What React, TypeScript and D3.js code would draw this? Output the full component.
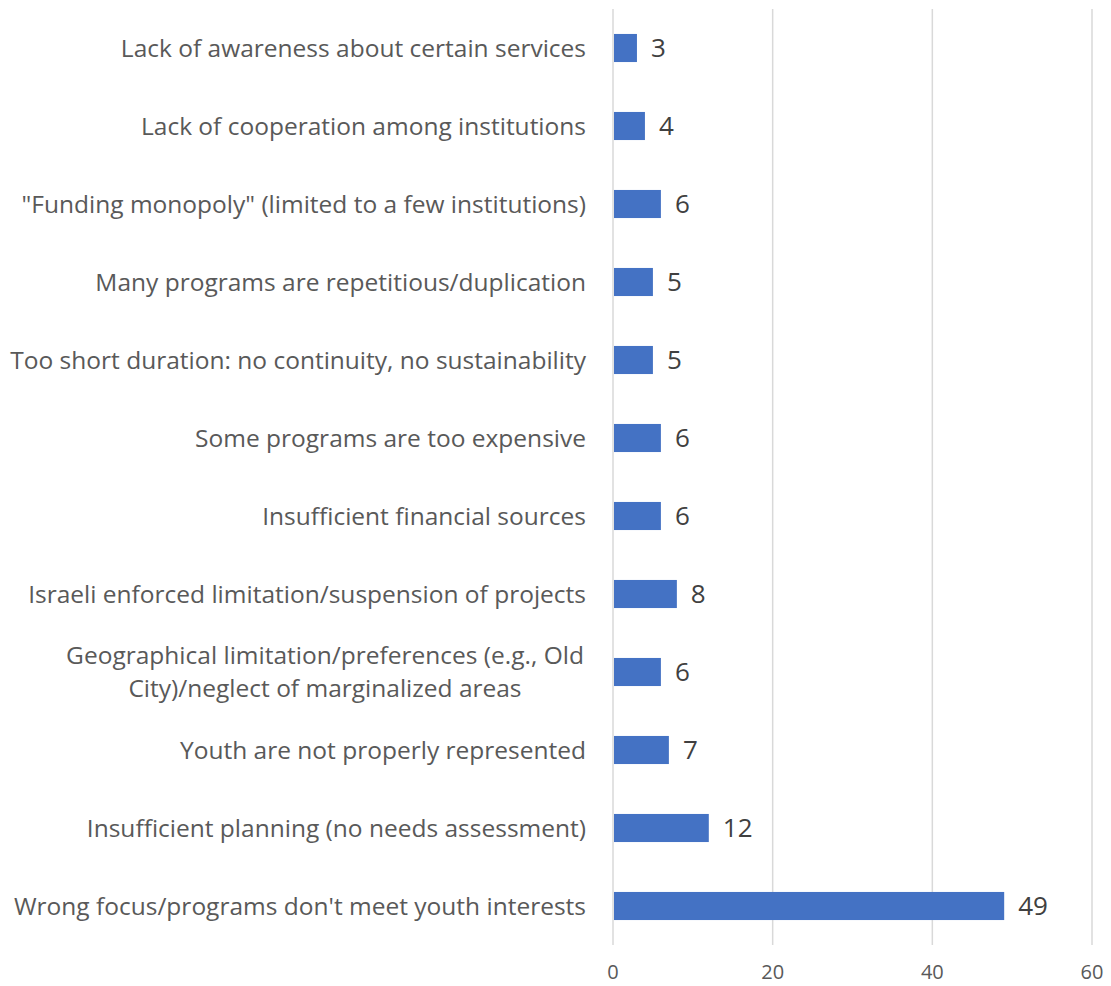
import { useEffect, useRef } from "react";
import * as d3 from "d3";

const categories = [
  "Lack of awareness about certain services",
  "Lack of cooperation among institutions",
  "\"Funding monopoly\" (limited to a few institutions)",
  "Many programs are repetitious/duplication",
  "Too short duration: no continuity, no sustainability",
  "Some programs are too expensive",
  "Insufficient financial sources",
  "Israeli enforced limitation/suspension of projects",
  "Geographical limitation/preferences (e.g., Old|City)/neglect of marginalized areas",
  "Youth are not properly represented",
  "Insufficient planning (no needs assessment)",
  "Wrong focus/programs don't meet youth interests",
];
const values = [3, 4, 6, 5, 5, 6, 6, 8, 6, 7, 12, 49];
const xTicks = [0, 20, 40, 60];

const FONT = "'Open Sans', sans-serif";

export default function App() {
  const svgRef = useRef<SVGSVGElement>(null);

  useEffect(() => {
    if (!svgRef.current) return;
    const W = 1111;
    const H = 986;
    const margin = { top: 9, right: 19, bottom: 41, left: 613 };
    const width = W - margin.left - margin.right;
    const height = H - margin.top - margin.bottom;

    const svg = d3.select(svgRef.current);
    svg.selectAll("*").remove();

    const g = svg
      .append("g")
      .attr("transform", `translate(${margin.left},${margin.top})`);

    const x = d3.scaleLinear().domain([0, 60]).range([0, width]);
    const y = d3
      .scaleBand<string>()
      .domain(categories)
      .range([0, height])
      .paddingInner(0.64)
      .paddingOuter(0.32);

    // gridlines
    g.selectAll("line.grid")
      .data(xTicks)
      .join("line")
      .attr("class", "grid")
      .attr("x1", (d) => x(d))
      .attr("x2", (d) => x(d))
      .attr("y1", 0)
      .attr("y2", height)
      .attr("stroke", "#d9d9d9")
      .attr("stroke-width", 1.5);

    // tick labels
    g.selectAll("text.tick")
      .data(xTicks)
      .join("text")
      .attr("class", "tick")
      .attr("x", (d) => x(d))
      .attr("y", height + 34)
      .attr("text-anchor", "middle")
      .style("font-family", FONT)
      .style("font-size", "20px")
      .attr("fill", "#595959")
      .text((d) => d);

    // bars
    g.selectAll("rect.bar")
      .data(categories)
      .join("rect")
      .attr("class", "bar")
      .attr("x", x(0) + 1)
      .attr("y", (d) => y(d)!)
      .attr("width", (_, i) => x(values[i]) - x(0) - 1)
      .attr("height", y.bandwidth())
      .attr("fill", "#4472c4");

    // value labels
    g.selectAll("text.val")
      .data(categories)
      .join("text")
      .attr("class", "val")
      .attr("x", (_, i) => x(values[i]) + 14)
      .attr("y", (d) => y(d)! + y.bandwidth() / 2)
      .attr("dy", "0.36em")
      .style("font-family", FONT)
      .style("font-size", "26px")
      .attr("fill", "#404040")
      .text((_, i) => values[i]);

    // category labels
    categories.forEach((c) => {
      const lines = c.split("|");
      const cy = y(c)! + y.bandwidth() / 2;
      const multi = lines.length > 1;
      const t = g
        .append("text")
        .attr("text-anchor", multi ? "middle" : "end")
        .style("font-family", FONT)
        .style("font-size", "24.5px")
        .attr("fill", "#595959");
      const lh = 33;
      lines.forEach((l, i) => {
        t.append("tspan")
          .attr("x", multi ? -288 : -27)
          .attr("y", cy + (i - (lines.length - 1) / 2) * lh)
          .attr("dy", "0.36em")
          .text(l);
      });
    });
  }, []);

  return (
    <svg
      ref={svgRef}
      width={1111}
      height={986}
      style={{ position: "absolute", left: 0, top: 0, background: "#fff" }}
    />
  );
}
